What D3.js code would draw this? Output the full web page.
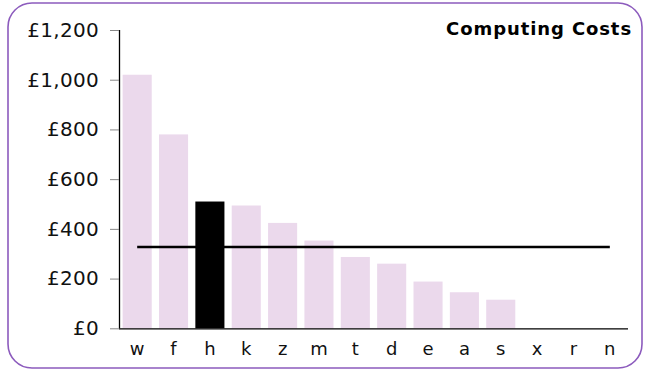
<!DOCTYPE html>
<html>
<head>
<meta charset="utf-8">
<script src="https://cdn.jsdelivr.net/npm/d3@7"></script>
<style>
  html, body { margin: 0; padding: 0; background: #fff; }
  svg { display: block; font-family: "DejaVu Sans", Verdana, sans-serif; }
</style>
</head>
<body>
<svg id="chart" width="650" height="370"></svg>
<script>
const categories = ["w","f","h","k","z","m","t","d","e","a","s","x","r","n"];
const costs = [1020, 780, 510, 494, 424, 353, 287, 260, 188, 145, 115, 0, 0, 0];
const highlight = "h";
const yTicks = [0, 200, 400, 600, 800, 1000, 1200];
const title = "Computing Costs";

const svg = d3.select("#chart");
const W = 650, H = 370;

// rounded frame
svg.append("rect")
  .attr("x", 8).attr("y", 3)
  .attr("width", 634).attr("height", 365)
  .attr("rx", 24).attr("ry", 24)
  .attr("fill", "#fff")
  .attr("stroke", "#8c5bbd")
  .attr("stroke-width", 1.6);

const margin = { left: 119, right: 22, top: 30, bottom: 41.7 };
const x = d3.scaleBand()
  .domain(categories)
  .range([margin.left, W - margin.right])
  .paddingInner(0.2)
  .paddingOuter(0.1);
const y = d3.scaleLinear()
  .domain([0, 1200])
  .range([H - margin.bottom, margin.top]);

const data = categories.map((c, i) => ({ c, v: costs[i] }));

svg.append("g").selectAll("rect")
  .data(data)
  .join("rect")
  .attr("x", d => x(d.c))
  .attr("y", d => y(d.v))
  .attr("width", x.bandwidth())
  .attr("height", d => y(0) - y(d.v))
  .attr("fill", d => d.c === highlight ? "#000" : "#ebd9ec");

// average line
const avg = d3.mean(costs);
svg.append("line")
  .attr("x1", x(categories[0]) + x.bandwidth() / 2)
  .attr("x2", x(categories[categories.length - 1]) + x.bandwidth() / 2)
  .attr("y1", y(avg)).attr("y2", y(avg))
  .attr("stroke", "#000")
  .attr("stroke-width", 2.5);

// y axis
const yAxis = svg.append("g")
  .attr("transform", `translate(${margin.left},0)`)
  .call(d3.axisLeft(y).tickValues(yTicks).tickSize(9).tickPadding(11)
    .tickFormat(d => "£" + d3.format(",")(d)));
yAxis.select(".domain").attr("d", `M0.5,${y(1200)}V${y(0)}`).attr("stroke", "#000").attr("stroke-width", 1.3);
yAxis.selectAll(".tick line").attr("stroke", "#888");
yAxis.selectAll(".tick text")
  .attr("font-size", 20).attr("fill", "#111")
  .attr("letter-spacing", 0.3)
  .attr("font-family", "'DejaVu Sans', Verdana, sans-serif");

// x axis
const xAxis = svg.append("g")
  .attr("transform", `translate(0,${y(0)})`)
  .call(d3.axisBottom(x).tickSize(0).tickPadding(14));
xAxis.select(".domain").attr("d", `M${margin.left},0.5H${W - margin.right}`).attr("stroke", "#000").attr("stroke-width", 1.3);
xAxis.selectAll(".tick text")
  .attr("font-size", 18).attr("fill", "#111")
  .attr("font-family", "'DejaVu Sans', Verdana, sans-serif");

// title
svg.append("text")
  .attr("x", 632).attr("y", 35)
  .attr("text-anchor", "end")
  .attr("font-size", 18)
  .attr("letter-spacing", 0.9)
  .attr("font-weight", "bold")
  .attr("fill", "#000")
  .text(title);
</script>
</body>
</html>
